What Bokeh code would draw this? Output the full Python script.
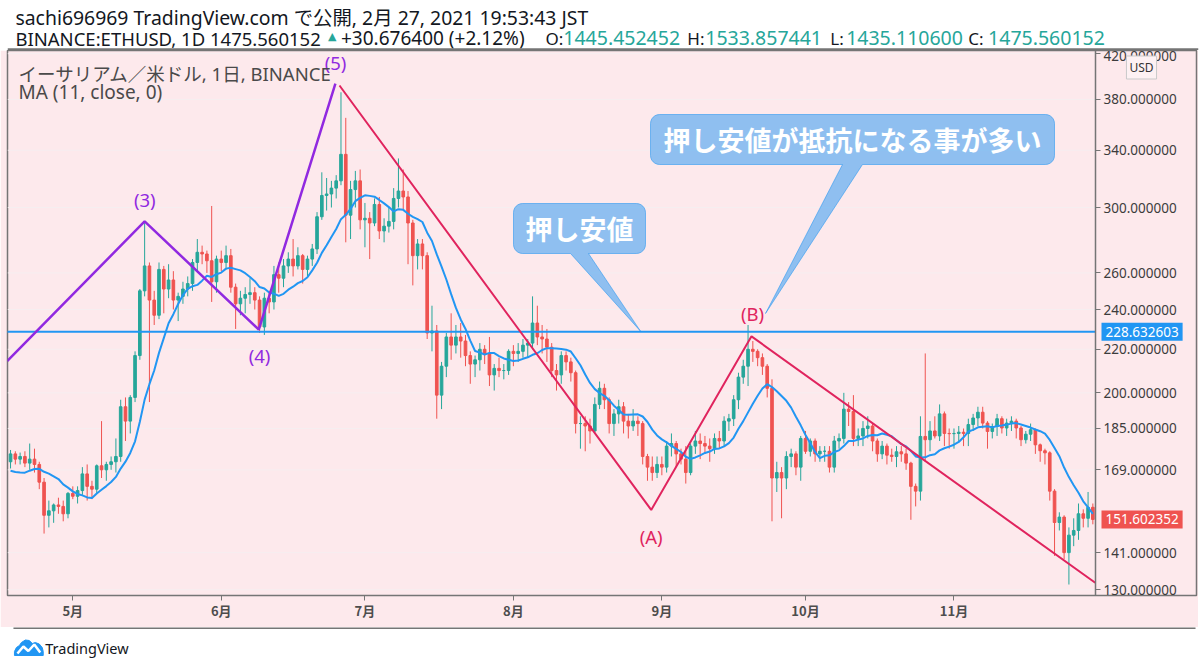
import numpy as np
import pandas as pd
from bokeh.plotting import figure
from bokeh.layouts import column
from bokeh.models import (Range1d, FixedTicker, PrintfTickFormatter, CustomJSTickFormatter,
                          Label, ColumnDataSource)
from bokeh.core.properties import value
from bokeh.embed import file_html
from bokeh.resources import INLINE

# ---------------- data ----------------
first_date = "2019-04-18"
first_open = 172.0
close = [
    175, 173, 174, 171.5, 173, 171, 164.5, 153, 154.5, 156.5, 156, 153.5, 160.5,
    159.5, 161.5, 167.5, 163, 162, 170.5, 169, 171, 172, 174, 194, 188, 198, 217, 250, 264, 245, 237,
    262, 251, 256, 245, 247, 251, 254, 266, 272, 271, 267, 255, 268,
    266, 270, 252, 243, 246, 248, 249, 245, 231, 246, 244, 259, 257, 264, 268, 264, 270, 262, 268, 274,
    294, 308, 309, 313, 318, 337, 295, 312, 318, 292,
    293, 290, 302, 285, 288, 291, 306, 311, 307, 290, 270, 277, 270, 228, 229, 199, 212, 226, 222, 226,
    224, 217, 213, 215, 220, 218, 208, 211, 210, 210, 219,
    218, 219, 222, 223, 233, 226, 225, 221, 210, 208, 217, 214, 209, 187, 187, 186, 184, 195, 202, 197,
    187, 191, 194, 188, 186, 188, 187, 174, 170, 168, 171,
    170, 178, 179, 175, 173, 168, 178, 180, 179, 178, 177, 181, 180, 188, 189, 197, 207, 212, 220, 219,
    216, 212, 202, 166, 168, 166, 174, 175, 170, 181,
    176, 180, 175, 176, 176, 170, 180, 181, 193, 192, 181, 182, 185, 186, 180, 175, 178, 174.5, 174,
    175.8, 175, 171.5, 163, 161.3, 181.8, 180.5, 184, 182, 191, 183, 182.9,
    183, 183.5, 183, 186.6, 189.3, 191.7, 187.2, 183.8, 185.8, 189, 185.2, 187.2, 188, 185.2, 180.5,
    182.7, 184.5, 178.5, 176.2, 175.4, 161.3, 150.6, 152.4, 141, 146.5, 148, 153.5, 152, 155.7,
    151.602352,
]
high = [
    176.5, 176, 175.5, 176, 179, 177, 172, 166, 158, 157, 159, 158, 161,
    163, 163, 170, 171, 165, 171, 188, 172, 174, 181, 197, 198, 199, 219, 251, 291, 266, 250,
    266, 264, 265, 261, 249, 255, 258, 268, 280, 276, 273, 301, 270,
    273, 276, 274, 254, 250, 252, 257, 252, 247, 249, 250, 264, 266, 268, 272, 280, 275, 271, 270, 277,
    297, 324, 320, 318, 322, 386, 365, 318, 325, 326,
    303, 297, 306, 307, 293, 300, 313, 334, 326, 311, 292, 280, 280, 272, 242, 232, 214, 228, 238, 232,
    233, 227, 219, 217, 223, 222, 226, 213, 216, 213, 220,
    222, 223, 225, 225, 247, 242, 232, 230, 223, 213, 219, 219, 216, 210, 190, 190, 189, 198, 205, 204,
    198, 193, 197, 196, 191, 193, 190, 188, 175, 174, 174,
    174, 180, 183, 180, 177, 178, 179, 184, 183, 182, 181, 183, 184, 190, 191, 199, 209, 215, 232, 224,
    220, 218, 213, 206, 172, 170, 176, 177, 176, 182,
    184, 181, 181, 178, 178, 178, 182, 183, 200, 196, 199, 185, 188, 190, 187, 181, 180, 179, 177, 178,
    178, 177, 172, 164, 190, 218, 188, 190, 195, 192, 185,
    185, 186, 185, 189, 191, 194, 194, 188, 187, 191, 190, 189, 190, 189, 186, 184, 187, 185, 179, 177,
    176, 162, 154, 153, 149, 152, 157, 155, 161, 157,
]
low = [
    169.5, 171, 171, 170, 169, 168, 162, 147, 149, 150.5, 153.5, 151, 152,
    158.5, 157, 160, 158, 158.5, 160.5, 166, 165, 169, 168, 172, 180, 183, 196, 215, 247, 196, 232,
    235, 238, 246, 240, 234, 243, 247, 250, 261, 265, 260, 244, 249,
    261, 262, 249, 230, 237, 238, 243, 240, 228, 227, 238, 240, 249, 252, 260, 258, 262, 254, 258, 264,
    271, 292, 298, 300, 306, 315, 278, 280, 300, 286,
    275, 268, 288, 280, 278, 284, 286, 300, 299, 265, 253, 262, 262, 225, 219, 189, 193, 207, 215, 218,
    216, 212, 204, 207, 210, 213, 203, 201, 207, 206, 208,
    212, 214, 216, 216, 220, 222, 218, 214, 207, 201, 204, 210, 205, 183, 177, 176, 179, 183, 193, 193,
    183, 182, 187, 183, 181, 184, 182, 171, 165, 165, 166,
    167, 168, 174, 170, 171, 164, 167, 175, 173, 175, 172, 175, 177, 178, 184, 186, 193, 204, 203, 214,
    212, 208, 198, 151, 161, 152, 162, 170, 167, 165,
    175, 174, 172, 172, 172, 168, 168, 177, 179, 186, 178, 178, 178, 181, 176, 172, 173, 171, 172, 170,
    172, 169, 151.5, 156, 158, 172, 176, 181, 180, 178, 177,
    177, 180, 178, 178, 184, 186, 185, 177, 181, 182, 183, 182, 184, 181, 178, 179, 180, 175, 172, 171,
    158, 140, 148, 139, 131.5, 143, 145, 149, 149, 150,
]
# closes of the 10 days before the visible window (feed the MA at the left edge)
ma_seed = [178, 176, 172, 165, 164, 164, 165, 162, 167, 167]
ma_period = 11

hline_price = 228.632603
last_price = 151.602352
y_ticks = [130, 141, 169, 185, 200, 220, 240, 260, 300, 340, 380, 420]
month_ticks = ["2019-05-01", "2019-06-01", "2019-07-01", "2019-08-01",
               "2019-09-01", "2019-10-01", "2019-11-01"]

# drawing-tool anchors (time, price)
wave_purple = [("2019-04-17 07:00", 214.4), ("2019-05-16 00:00", 291.0),
               ("2019-06-08 20:00", 229.7), ("2019-06-24 20:00", 393.3)]
wave_red = [("2019-06-25 16:30", 391.8), ("2019-08-29 18:45", 154.8),
            ("2019-09-19 17:15", 226.3), ("2019-11-30 12:00", 132.0)]

assert len(close) == len(high) == len(low) == 227

# ---------------- styles / layout mapping ----------------
UP, DOWN = "#26a69a", "#ef5350"
PINK = "#fde9ec"
BLUE = "#2196f3"
PURPLE = "#9129e0"
CRIMSON = "#e0245e"
DARK = "#131722"
BORDER = "#757575"
FONT = "'Noto Sans', 'Noto Sans CJK JP'"
JP = "'Noto Sans CJK JP'"
DAY_MS = 86400000.0

D0 = pd.Timestamp("2019-05-01")
PX_D0, PX_PER_DAY = 72.3, 4.789
PX_P420, PX_PER_LN = 53.2, 457.1
PLOT_L, PLOT_R, PANEL_R = 7, 1095, 1196


def t_ms(s):
    return pd.Timestamp(s).value / 1e6


def px_x(x):
    return D0.value / 1e6 + (x - PX_D0) / PX_PER_DAY * DAY_MS


def px_y(y):
    return 420.0 * np.exp(-(y - PX_P420) / PX_PER_LN)


# ---------------- header ----------------
hdr = figure(width=1200, height=50, x_range=Range1d(0, 1200), y_range=Range1d(50, 0),
             toolbar_location=None, output_backend="svg", min_border=0,
             x_axis_location=None, y_axis_location=None,
             background_fill_color="white", border_fill_color="white", outline_line_color=None)
hdr.grid.visible = False
hdr.text(x=[8], y=[16.5], text=["sachi696969 TradingView.com で公開, 2月 27, 2021 19:53:43 JST"],
         text_font=value(FONT), text_font_size="19.4px", text_color=DARK,
         text_baseline="alphabetic")
segs = [("BINANCE:ETHUSD, 1D 1475.560152", 8, DARK, "18.5px"),
        ("+30.676400 (+2.12%)", 336, DARK, "19px"),
        ("O:", 542, DARK, "17px"), ("1445.452452", 560, UP, "19.5px"),
        ("H:", 685, DARK, "17px"), ("1533.857441", 703, UP, "19.5px"),
        ("L:", 829, DARK, "17px"), ("1435.110600", 845, UP, "19.5px"),
        ("C:", 968, DARK, "17px"), ("1475.560152", 988, UP, "19.5px")]
hdr.text(x=[s[1] for s in segs], y=[37.5] * len(segs), text=[s[0] for s in segs],
         text_color=[s[2] for s in segs], text_font=value(FONT),
         text_font_size=[s[3] for s in segs], text_baseline="alphabetic")
hdr.text(x=[323], y=[36], text=["▲"], text_color=UP, text_font=value("DejaVu Sans"),
         text_font_size="11px", text_baseline="alphabetic")
hdr.segment(x0=[0], y0=[48.9], x1=[1200], y1=[48.9], line_color=BORDER, line_width=2.2)

# ---------------- main chart ----------------
dates = pd.date_range(first_date, periods=len(close), freq="D")
opens = [first_open] + close[:-1]
df = pd.DataFrame(dict(date=dates, open=opens, high=high, low=low, close=close))
df["top"] = df[["open", "close"]].max(axis=1)
df["bottom"] = df[["open", "close"]].min(axis=1)
df["color"] = np.where(df["close"] >= df["open"], UP, DOWN)
df["ma"] = pd.Series(ma_seed + close).rolling(ma_period).mean().iloc[len(ma_seed):].values
src = ColumnDataSource(df)

# the frame covers the plot and the price-scale strip; the price axis sits at its fixed place
p = figure(width=1198, height=577, x_axis_type="datetime", y_axis_type="log",
           x_range=Range1d(px_x(PLOT_L), px_x(PANEL_R)), y_range=Range1d(px_y(595), px_y(50)),
           y_axis_location="right", toolbar_location=None, output_backend="svg",
           min_border_left=PLOT_L, min_border_right=1198 - PANEL_R, min_border_top=0,
           min_border_bottom=32, background_fill_color=PINK, border_fill_color=PINK,
           outline_line_color=BORDER, outline_line_width=1.5)

p.grid.visible = False

p.yaxis.fixed_location = px_x(PLOT_R)
p.yaxis.ticker = FixedTicker(ticks=y_ticks)
p.yaxis.formatter = PrintfTickFormatter(format="%.6f")
p.yaxis.major_label_text_font = "Noto Sans"
p.yaxis.major_label_text_font_size = "13.5px"
p.yaxis.major_label_text_color = "#3c3c3c"
p.yaxis.major_label_standoff = 3
p.yaxis.major_tick_out = 5
p.yaxis.major_tick_in = 0
p.yaxis.major_tick_line_color = BORDER
p.yaxis.minor_tick_line_color = None
p.yaxis.axis_line_color = BORDER
p.yaxis.axis_line_width = 1.5

p.xaxis.ticker = FixedTicker(ticks=[t_ms(m) for m in month_ticks])
p.xaxis.formatter = CustomJSTickFormatter(
    code="const d = new Date(tick); return (d.getUTCMonth() + 1) + '月';")
p.xaxis.major_label_text_font = "Noto Sans CJK JP"
p.xaxis.major_label_text_font_style = "bold"
p.xaxis.major_label_text_font_size = "13px"
p.xaxis.major_label_text_color = "#4d4d4d"
p.xaxis.major_label_standoff = 0
p.xaxis.major_tick_out = 5
p.xaxis.major_tick_in = 0
p.xaxis.major_tick_line_color = BORDER
p.xaxis.minor_tick_line_color = None
p.xaxis.axis_line_color = BORDER

# horizontal price grid inside the plot area only
p.segment(x0=[px_x(PLOT_L)] * len(y_ticks), x1=[px_x(PLOT_R)] * len(y_ticks),
          y0=y_ticks, y1=y_ticks, line_color="#f6eef0", line_width=1)

# candles
p.segment(x0="date", y0="low", x1="date", y1="high", line_color="color", line_width=1, source=src)
p.vbar(x="date", width=0.55 * DAY_MS, top="top", bottom="bottom", fill_color="color",
       line_color="color", line_width=1, source=src)
# moving average
p.line(x="date", y="ma", line_color=BLUE, line_width=2, source=src)

# horizontal support line (drawn across the plot area)
p.segment(x0=[px_x(0)], x1=[px_x(PLOT_R)], y0=[hline_price], y1=[hline_price],
          line_color=BLUE, line_width=2)

# waves
p.line(x=[t_ms(d) for d, _ in wave_purple], y=[v for _, v in wave_purple],
       line_color=PURPLE, line_width=2.5)
p.line(x=[t_ms(d) for d, _ in wave_red], y=[v for _, v in wave_red],
       line_color=CRIMSON, line_width=2)

wave_labels = [("(3)", 144.3, 199, PURPLE), ("(4)", 259, 355, PURPLE), ("(5)", 335, 61.5, PURPLE),
               ("(A)", 650.7, 536, CRIMSON), ("(B)", 752, 313, CRIMSON)]
p.text(x=[px_x(a[1]) for a in wave_labels], y=[px_y(a[2]) for a in wave_labels],
       text=[a[0] for a in wave_labels], text_color=[a[3] for a in wave_labels],
       text_font=value("Noto Sans"), text_font_size="18.5px", text_align="center",
       text_baseline="middle")


# callouts
def callout(x0, y0, x1, y1, r, base_l, base_r, tip):
    pts = []

    def arc(cx, cy, a0, a1):
        for a in np.linspace(a0, a1, 7):
            pts.append((cx + r * np.cos(a), cy + r * np.sin(a)))
    arc(x0 + r, y0 + r, np.pi, 1.5 * np.pi)
    arc(x1 - r, y0 + r, 1.5 * np.pi, 2 * np.pi)
    arc(x1 - r, y1 - r, 0.0, 0.5 * np.pi)
    pts += [(base_r, y1), tip, (base_l, y1)]
    arc(x0 + r, y1 - r, 0.5 * np.pi, np.pi)
    return [px_x(a) for a, _ in pts], [px_y(b) for _, b in pts]


for box, txt, cx, cy in [
        ((513, 203, 645, 253, 9, 570, 588, (640, 330.7)), "押し安値", 579, 227.5),
        ((650, 114, 1054, 164, 9, 842, 862, (765, 313)), "押し安値が抵抗になる事が多い", 852, 139)]:
    xs, ys = callout(*box)
    p.patch(xs, ys, fill_color=BLUE, fill_alpha=0.5, line_color=BLUE, line_alpha=0.55, line_width=1)
    p.text(x=[px_x(cx)], y=[px_y(cy)], text=[txt], text_color="white", text_font=value(JP),
           text_font_style="bold", text_font_size="27px", text_align="center", text_baseline="middle")

# legend (top-left)
p.text(x=[px_x(18), px_x(18)], y=[px_y(73), px_y(91)],
       text=["イーサリアム／米ドル, 1日, BINANCE", "MA (11, close, 0)"],
       text_color="#4a4a4a", text_font=value(FONT), text_font_size=["18.5px", "19px"],
       text_baseline="middle")

# price-scale labels
p.add_layout(Label(x=px_x(1101), y=hline_price, text=f"{hline_price:.6f}", text_color="white",
                   text_font="Noto Sans", text_font_size="13.5px", text_baseline="middle",
                   background_fill_color=BLUE, padding=4))
p.add_layout(Label(x=px_x(1101), y=last_price, text=f"{last_price:.6f}", text_color="white",
                   text_font="Noto Sans", text_font_size="13.5px", text_baseline="middle",
                   background_fill_color=DOWN, padding=4))
p.add_layout(Label(x=px_x(1141), y=px_y(67), text="USD", text_color="#333333",
                   text_font="Noto Sans", text_font_size="12px", text_align="center",
                   text_baseline="middle", background_fill_color="#fdf1f3",
                   border_line_color="#c9c9c9", padding=3))

# ---------------- footer ----------------
ftr = figure(width=1200, height=41, x_range=Range1d(0, 1200), y_range=Range1d(41, 0),
             toolbar_location=None, output_backend="svg", min_border=0,
             x_axis_location=None, y_axis_location=None,
             background_fill_color="white", border_fill_color="white", outline_line_color=None)
ftr.grid.visible = False
ftr.segment(x0=[6], y0=[0.5], x1=[1197], y1=[0.5], line_color=BORDER, line_width=2)
ftr.patch([7, 7, 9, 12, 14, 18, 22, 25, 28, 32, 35, 36, 36],
          [28, 24, 20, 18, 15, 12.5, 13, 16, 15, 16.5, 20, 24, 28], fill_color="#2196f3",
          line_color="#2196f3")
ftr.line([10, 16, 21, 27, 33], [26, 19, 23.5, 17, 25], line_color="white", line_width=2.5)
ftr.text(x=[38], y=[20], text=["TradingView"], text_color=DARK, text_font=value("Noto Sans"),
         text_font_size="14.5px", text_baseline="middle")

layout = column(hdr, p, ftr, spacing=0)
open("out.html", "w").write(file_html(layout, INLINE, title="ETHUSD"))
